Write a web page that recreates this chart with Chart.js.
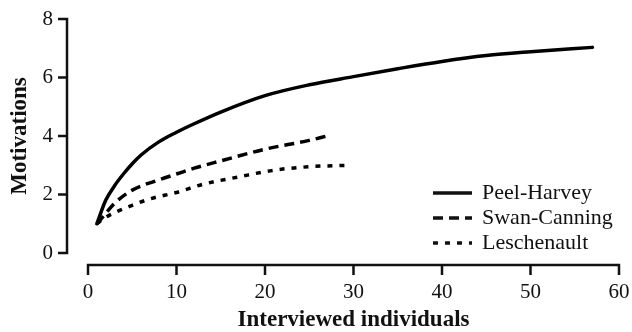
<!DOCTYPE html>
<html>
<head>
<meta charset="utf-8">
<script src="https://cdn.jsdelivr.net/npm/chart.js@4"></script>
<style>
  html, body { margin: 0; padding: 0; background: #fff; }
  #wrap { width: 632px; height: 332px; }
</style>
</head>
<body>
<div id="wrap"><canvas id="myChart" width="632" height="332"></canvas></div>
<script>
// values
var peelX = [1, 2, 3, 4, 5, 6, 8, 10, 12, 15, 20, 25, 30, 35, 40, 45, 50, 57];
var peelY = [1, 1.8, 2.3, 2.7, 3.05, 3.35, 3.8, 4.13, 4.42, 4.82, 5.38, 5.75, 6.03, 6.3, 6.55, 6.75, 6.88, 7.03];
var swanX = [1, 2, 3, 5, 8, 10, 12, 15, 20, 25, 27];
var swanY = [1, 1.35, 1.7, 2.15, 2.5, 2.7, 2.9, 3.15, 3.55, 3.85, 4.0];
var leschX = [1, 2, 3, 5, 7, 10, 13, 17, 21, 25, 29.5];
var leschY = [1, 1.22, 1.38, 1.63, 1.85, 2.07, 2.35, 2.6, 2.83, 2.95, 3.0];
var names = ["Peel-Harvey", "Swan-Canning", "Leschenault"];
var xTicks = [0, 10, 20, 30, 40, 50, 60];
var yTicks = [0, 2, 4, 6, 8];

var serif = "'Liberation Serif', 'Times New Roman', serif";

function pts(xs, ys) {
  var out = [];
  for (var i = 0; i < xs.length; i++) {
    out.push({ x: xs[i], y: ys[i] });
  }
  return out;
}

// axis lines drawn apart from the plot (offset style)
var axesPlugin = {
  id: "axesPlugin",
  afterDraw: function(chart) {
    var ctx = chart.ctx;
    var xs = chart.scales.x, ys = chart.scales.y;
    var area = chart.chartArea;
    var axX = area.left - 21;
    var axY = area.bottom + 12;
    ctx.save();
    ctx.strokeStyle = "#111";
    ctx.lineWidth = 2.5;
    ctx.lineCap = "butt";
    ctx.beginPath();
    ctx.moveTo(axX, ys.getPixelForValue(8) - 1.2);
    ctx.lineTo(axX, ys.getPixelForValue(0) + 1.2);
    for (var i = 0; i < yTicks.length; i++) {
      var py = ys.getPixelForValue(yTicks[i]);
      ctx.moveTo(axX - 9, py);
      ctx.lineTo(axX, py);
    }
    ctx.moveTo(xs.getPixelForValue(0) - 1.2, axY);
    ctx.lineTo(xs.getPixelForValue(60) + 1.2, axY);
    for (var j = 0; j < xTicks.length; j++) {
      var px = xs.getPixelForValue(xTicks[j]);
      ctx.moveTo(px, axY);
      ctx.lineTo(px, axY + 10);
    }
    ctx.stroke();

    // legend
    var lx = 433, ly = 193, step = 25;
    ctx.font = "22px " + serif;
    ctx.fillStyle = "#111";
    ctx.textBaseline = "middle";
    chart.data.datasets.forEach(function(ds, k) {
      var y = ly + k * step;
      ctx.setLineDash(ds.borderDash || []);
      ctx.lineWidth = ds.borderWidth;
      ctx.beginPath();
      ctx.moveTo(lx, y);
      ctx.lineTo(lx + 39, y);
      ctx.stroke();
      ctx.setLineDash([]);
      ctx.fillText(ds.label, lx + 49, y);
    });
    ctx.restore();
  }
};

function init() {
  var ctx = document.getElementById("myChart");
  var chart = new Chart(ctx, {
    type: "line",
    data: {
      datasets: [{
        label: names[0],
        data: pts(peelX, peelY),
        borderColor: "#000",
        borderWidth: 3.5,
        borderCapStyle: "round",
        pointRadius: 0,
        cubicInterpolationMode: "monotone"
      }, {
        label: names[1],
        data: pts(swanX, swanY),
        borderColor: "#000",
        borderWidth: 3.5,
        borderDash: [10, 6],
        pointRadius: 0,
        cubicInterpolationMode: "monotone"
      }, {
        label: names[2],
        data: pts(leschX, leschY),
        borderColor: "#000",
        borderWidth: 3.5,
        borderDash: [5, 7],
        pointRadius: 0,
        cubicInterpolationMode: "monotone"
      }]
    },
    options: {
      responsive: false,
      animation: false,
      clip: false,
      layout: { padding: { top: 19, right: 13, left: 0, bottom: 0 } },
      plugins: { legend: { display: false }, tooltip: { enabled: false } },
      scales: {
        x: {
          type: "linear",
          min: 0, max: 60,
          grid: { display: false, drawTicks: false },
          border: { display: false },
          ticks: {
            stepSize: 10,
            padding: 27,
            color: "#111",
            font: { family: serif, size: 21 }
          },
          title: {
            display: true,
            text: "Interviewed individuals",
            color: "#111",
            padding: { top: 0, bottom: 0 },
            font: { family: serif, size: 23, weight: "bold", lineHeight: 1 }
          },
          afterFit: function(s) {
            s.height = 79;
            s.paddingLeft = 0;
            s.paddingRight = 0;
          }
        },
        y: {
          min: 0, max: 8,
          grid: { display: false, drawTicks: false },
          border: { display: false },
          ticks: {
            stepSize: 2,
            padding: 35,
            color: "#111",
            font: { family: serif, size: 21 }
          },
          title: {
            display: true,
            text: "Motivations",
            color: "#111",
            padding: { top: 6, bottom: 0 },
            font: { family: serif, size: 23, weight: "bold" }
          },
          afterFit: function(s) {
            s.width = 88;
            s.paddingTop = 0;
            s.paddingBottom = 0;
          }
        }
      }
    },
    plugins: [axesPlugin]
  });
}

init();
</script>
</body>
</html>
